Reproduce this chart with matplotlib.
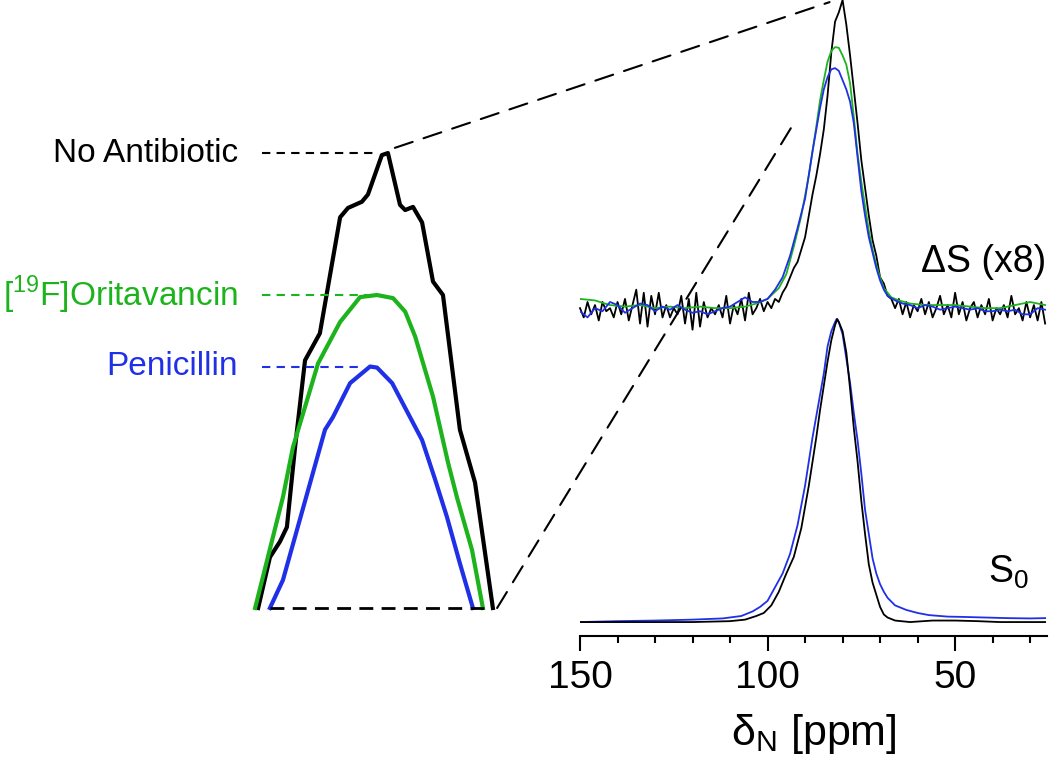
"""
15N spectra: S0 and difference spectra (x8), with a magnified view of the
difference-spectrum peak tops on the left.
"""
import numpy as np
import matplotlib
matplotlib.use('Agg')
from matplotlib import pyplot as plt
from matplotlib.patches import ConnectionPatch
from matplotlib.transforms import blended_transform_factory

plt.rcParams['font.family'] = ['Liberation Sans', 'DejaVu Sans']
plt.rcParams['mathtext.fontset'] = 'custom'
plt.rcParams['mathtext.rm'] = 'Liberation Sans'

BLACK = 'black'
GREEN = '#1db31d'
BLUE = '#1f30e6'

# ---- difference spectra dS (x8), peak of "No Antibiotic" = 1 ----
ds_black_ppm = list(range(150, 25, -1))
ds_black = [0.00, -0.03, 0.02, -0.02, 0.01, -0.04, 0.02, -0.01, 0.00, -0.03,
            0.02, -0.02, 0.03, -0.04, 0.01, 0.06, -0.05, 0.05, -0.06, 0.04,
            -0.02, 0.05, -0.03, 0.01, -0.03, 0.00, -0.02, 0.04, -0.05, 0.03,
            -0.07, 0.05, -0.06, 0.02, -0.03, 0.00, -0.02, 0.01, -0.03, 0.04,
            -0.05, 0.01, -0.02, 0.03, -0.04, 0.05, -0.02, 0.00, 0.03, -0.01,
            0.02, 0.00, 0.03, 0.02, 0.05, 0.07, 0.10, 0.13, 0.15, 0.19,
            0.23, 0.30, 0.37, 0.43, 0.50, 0.58, 0.69, 0.83, 0.93, 0.96,
            1.00, 0.92, 0.82, 0.71, 0.60, 0.48, 0.39, 0.30, 0.22, 0.17,
            0.10, 0.08, 0.04, 0.03, 0.00, 0.03, -0.02, 0.02, -0.03, 0.01,
            -0.01, 0.03, -0.02, 0.02, -0.03, 0.00, 0.04, -0.02, 0.01, -0.03,
            0.05, -0.02, 0.02, -0.04, 0.00, 0.02, -0.03, 0.01, -0.02, 0.03,
            -0.04, 0.00, -0.02, 0.01, -0.03, 0.04, -0.02, 0.00, -0.04, 0.02,
            -0.03, 0.01, -0.04, 0.02, -0.05]

ds_green_ppm = [150, 146, 142, 138, 134, 130, 126, 122, 118, 114, 110, 106,
                103, 100, 97, 95, 93, 91, 89, 87, 86, 85, 84, 83, 82, 81, 80,
                79, 78, 77, 76, 75, 74, 73, 72, 71, 70, 69, 67, 65, 62, 58,
                54, 50, 46, 42, 38, 34, 30, 26]
ds_green = [0.030, 0.025, 0.010, 0.005, 0.010, 0.000, 0.005, 0.000, 0.005,
            0.000, 0.000, 0.005, 0.015, 0.030, 0.065, 0.11, 0.20, 0.30,
            0.43, 0.59, 0.675, 0.74, 0.80, 0.835, 0.847, 0.845, 0.82, 0.79,
            0.73, 0.62, 0.50, 0.41, 0.33, 0.25, 0.19, 0.14, 0.10, 0.065,
            0.035, 0.025, 0.015, 0.010, 0.010, 0.010, 0.005, 0.000, 0.000,
            0.010, 0.020, 0.010]

ds_blue_ppm = [150, 148, 146, 144, 142, 140, 138, 136, 134, 132, 130, 128,
               126, 124, 122, 120, 118, 116, 114, 112, 110, 108, 106, 104,
               102, 100, 98, 96, 94, 92, 90, 88, 87, 86, 85, 84, 83, 82, 81,
               80, 79, 78, 77, 76, 75, 74, 73, 72, 71, 70, 69, 68, 66, 64,
               62, 60, 58, 56, 54, 52, 50, 48, 46, 44, 42, 40, 38, 36, 34,
               32, 30, 28, 26]
ds_blue = [-0.01, -0.03, 0.00, -0.01, 0.02, 0.01, -0.015, 0.00, 0.015, 0.01,
           -0.01, 0.005, -0.005, 0.01, -0.005, -0.015, -0.01, -0.02, -0.01,
           0.00, 0.005, 0.02, 0.035, 0.02, 0.02, 0.03, 0.06, 0.10, 0.17,
           0.26, 0.355, 0.51, 0.58, 0.65, 0.71, 0.75, 0.775, 0.779, 0.77,
           0.74, 0.71, 0.67, 0.60, 0.49, 0.38, 0.30, 0.23, 0.18, 0.13, 0.09,
           0.06, 0.04, 0.025, 0.015, 0.01, 0.00, 0.01, 0.005, -0.005, 0.00,
           0.005, 0.00, -0.005, 0.00, -0.01, -0.01, -0.005, -0.01, -0.005,
           -0.02, -0.02, 0.00, -0.005]

# ---- full spectra S0, normalised to peak = 1 ----
s0_black_ppm = [150, 140, 130, 120, 110, 106, 103, 101, 99, 97, 95, 93, 91,
                89, 87, 86, 85, 84, 83, 82, 81.4, 81, 80, 79, 78, 77, 76, 75,
                74, 73, 72, 71, 70, 69, 68, 66, 62, 56, 50, 44, 38, 32, 26]
s0_black = [0.0, 0.0, 0.0, 0.0, 0.003, 0.008, 0.02, 0.03, 0.055, 0.10, 0.16,
            0.215, 0.31, 0.45, 0.61, 0.70, 0.78, 0.86, 0.93, 0.98, 1.0, 0.99,
            0.96, 0.89, 0.77, 0.64, 0.53, 0.40, 0.29, 0.19, 0.13, 0.09, 0.05,
            0.025, 0.015, 0.005, 0.0, 0.005, 0.005, 0.003, 0.0, 0.0, 0.0]

s0_blue_ppm = [150, 140, 130, 120, 112, 107, 104, 102, 100, 98, 96, 94, 92,
               90, 88, 87, 86, 85, 84, 83, 82, 81.6, 81, 80, 79, 78, 77, 76,
               75, 74, 73, 72, 71, 70, 69, 68, 66, 63, 60, 57, 52, 48, 42,
               36, 30, 26]
s0_blue = [0.0, 0.003, 0.005, 0.008, 0.012, 0.02, 0.035, 0.05, 0.07, 0.115,
           0.16, 0.225, 0.32, 0.45, 0.61, 0.68, 0.75, 0.82, 0.91, 0.96, 0.99,
           1.0, 0.99, 0.95, 0.87, 0.79, 0.69, 0.60, 0.49, 0.37, 0.29, 0.21,
           0.16, 0.125, 0.10, 0.08, 0.055, 0.04, 0.03, 0.023, 0.018, 0.017,
           0.015, 0.013, 0.012, 0.013]

# ---- magnified peak tops (same intensity units as dS) ----
zoom_black_ppm = [85.83, 85.44, 85.11, 84.88, 84.61, 84.28, 83.79, 83.12,
                  82.86, 82.40, 82.20, 81.74, 81.54, 81.14, 80.97, 80.71,
                  80.41, 80.05, 79.72, 79.16, 78.66, 78.07]
zoom_black = [0.56, 0.609, 0.624, 0.638, 0.715, 0.799, 0.825, 0.937, 0.946,
              0.952, 0.959, 0.997, 0.999, 0.949, 0.944, 0.947, 0.932, 0.875,
              0.862, 0.732, 0.681, 0.56]
zoom_green_ppm = [85.93, 85.01, 84.68, 83.85, 83.12, 82.46, 81.90, 81.37,
                  80.97, 80.64, 80.05, 79.55, 79.26, 78.76, 78.40]
zoom_green = [0.56, 0.667, 0.715, 0.796, 0.836, 0.860, 0.862, 0.859, 0.846,
              0.822, 0.764, 0.700, 0.667, 0.616, 0.56]
zoom_blue_ppm = [85.44, 85.01, 83.62, 83.36, 82.79, 82.13, 81.90, 81.40,
                 80.41, 79.98, 79.59, 79.16, 78.73]
zoom_blue = [0.56, 0.587, 0.732, 0.744, 0.777, 0.793, 0.792, 0.777, 0.722,
             0.684, 0.648, 0.603, 0.56]

labels = ['No Antibiotic', '[$^{\\mathregular{19}}$F]Oritavancin', 'Penicillin']
label_colors = [BLACK, GREEN, BLUE]

DS_OFFSET = 1.036   # dS baseline above S0 baseline
DS_SCALE = 1.017
ZOOM_CUT = 0.56     # lower edge of the magnified view

# connector anchors: (inset point, main-panel point)
conn_top = ((81.31, 1.004), (83.47, 2.046))
conn_bottom = ((77.93, ZOOM_CUT), (92.8, 1.65))


def ds(v):
    return DS_OFFSET + DS_SCALE*np.asarray(v)


fig = plt.figure(figsize=(10.5, 7.65), dpi=100)

# main spectra
ax = fig.add_axes([580/1050, 1 - 636/765, 467/1050, 636/765])
ax.plot(ds_black_ppm, ds(ds_black), color=BLACK, lw=1.3, clip_on=False)
ax.plot(ds_green_ppm, ds(ds_green), color=GREEN, lw=1.3)
ax.plot(ds_blue_ppm, ds(ds_blue), color=BLUE, lw=1.3)
ax.plot(s0_blue_ppm, s0_blue, color=BLUE, lw=1.3)
ax.plot(s0_black_ppm, s0_black, color=BLACK, lw=1.3)

ax.set_xlim(150, 25.5)
ax.set_ylim(-0.046, 2.053)
for side in ('left', 'right', 'top'):
    ax.spines[side].set_visible(False)
ax.spines['bottom'].set_linewidth(1.5)
ax.set_yticks([])
ax.set_xticks([150, 100, 50])
ax.set_xticks(np.arange(140, 25, -10), minor=True)
ax.tick_params(axis='x', which='major', length=11, width=1.5, pad=6,
               labelsize=28)
ax.tick_params(axis='x', which='minor', length=5, width=1.5)
ax.set_xlabel('δ$_{\\mathregular{N}}$ [ppm]', fontsize=31, labelpad=12)

ax.text(25.8, ds(0.15), 'ΔS (x8)', fontsize=27, ha='right', va='center')
ax.text(30.2, 0.13, 'S$_{\\mathregular{0}}$', fontsize=27, ha='right',
        va='baseline')

# magnified view of the dS peak tops
ax_in = fig.add_axes([253/1050, 1 - 608/765, 242/1050, 456/765])
ax_in.plot(zoom_black_ppm, zoom_black, color=BLACK, lw=3, clip_on=False)
ax_in.plot(zoom_green_ppm, zoom_green, color=GREEN, lw=3, clip_on=False)
ax_in.plot(zoom_blue_ppm, zoom_blue, color=BLUE, lw=3, clip_on=False)
ax_in.set_xlim(86, 78)
ax_in.set_ylim(ZOOM_CUT, 1.0)
ax_in.axis('off')

ax_in.plot([zoom_blue_ppm[0], zoom_black_ppm[-1]], [ZOOM_CUT, ZOOM_CUT],
           color=BLACK, lw=2, ls=(0, (5, 3)), clip_on=False)

tops = [max(zoom_black), max(zoom_green), max(zoom_blue)]
top_x = [zoom_black_ppm[int(np.argmax(zoom_black))] + 0.5,
         zoom_green_ppm[int(np.argmax(zoom_green))] + 0.3,
         zoom_blue_ppm[int(np.argmax(zoom_blue))] + 0.2]
trans = blended_transform_factory(ax_in.transAxes, ax_in.transData)
for lab, col, y, xe in zip(labels, label_colors, tops, top_x):
    ax_in.plot([85.7, xe], [y, y], color=col, lw=1.5, ls=(0, (4, 3)),
               clip_on=False)
    ax_in.text(-0.062, y, lab, color=col, fontsize=24, ha='right',
               va='center', transform=trans)

for a, b in (conn_top, conn_bottom):
    con = ConnectionPatch(xyA=a, coordsA=ax_in.transData, xyB=b,
                          coordsB=ax.transData, color=BLACK, lw=1.5,
                          ls=(0, (9, 5.5)))
    fig.add_artist(con)

fig.savefig('out.png', dpi=100)
